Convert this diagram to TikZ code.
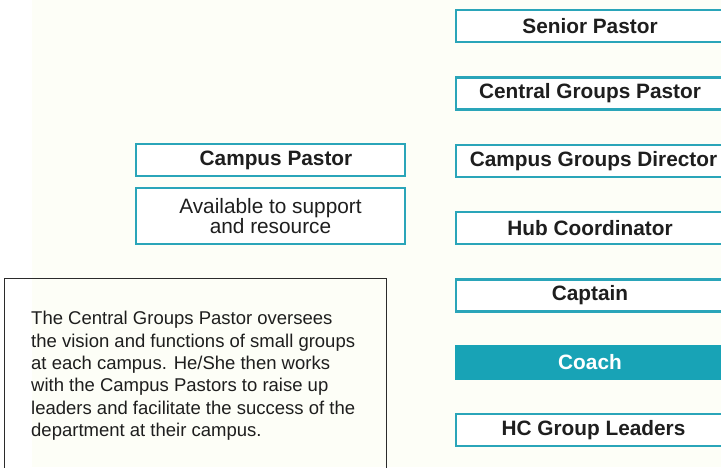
\documentclass[tikz,border=0pt]{standalone}
\usepackage{fontspec}
\setmainfont{Liberation Sans}
\definecolor{cream}{rgb}{0.992,0.996,0.970}
\definecolor{tealb}{HTML}{2AA5B9}
\definecolor{tealf}{HTML}{18A3B6}
\definecolor{txt}{HTML}{1E1E1E}
\definecolor{descline}{HTML}{2B2B2B}
\begin{document}
\begin{tikzpicture}[x=1pt,y=-1pt,
  rolebox/.style={draw=tealb,line width=2.4pt,fill=white,minimum width=268pt,minimum height=32pt,inner sep=0pt,
    font=\fontsize{20.8}{22}\selectfont\bfseries,text=txt},
  coachbox/.style={rolebox,fill=tealf,draw=tealf,text=white},
  sidebox/.style={draw=tealb,line width=2.4pt,fill=white,minimum width=269pt,inner sep=0pt,text=txt},
  descframe/.style={draw=descline,line width=1.3pt,minimum width=382pt,minimum height=200pt,inner sep=0pt,anchor=north west},
  desctext/.style={anchor=north west,inner sep=0pt,align=left,text=txt,
    font=\fontsize{18.5}{22.4}\selectfont}]
\useasboundingbox (0,0) rectangle (721,467);
\clip (0,0) rectangle (721,467);
\fill[white] (0,0) rectangle (721,467);
\fill[cream] (32,0) rectangle (721,467);
% right column
\node[rolebox] (senior) at (590,26) {Senior Pastor};
\node[rolebox] (central) at (590,93.5) {Central Groups Pastor};
\node[rolebox] (director) at (590,161) {\hspace*{7pt}Campus Groups Director};
\node[rolebox] (hub) at (590,228) {Hub Coordinator};
\node[rolebox] (captain) at (590,295.5) {Captain};
\node[coachbox] (coach) at (590,362.5) {Coach};
\node[rolebox] (hc) at (590,430) {\hspace*{7pt}HC Group Leaders};
% left boxes
\node[sidebox,minimum height=32pt,font=\fontsize{20.8}{22}\selectfont\bfseries] (campus) at (270.5,160) {\hspace*{11pt}Campus Pastor};
\node[sidebox,minimum height=56pt,align=center,font=\fontsize{20.8}{19.5}\selectfont] (avail) at (270.5,216) {Available to support\\and resource};
% description
\node[descframe] (descbox) at (4,278) {};
\node[desctext] (desc) at (31,311) {The Central Groups Pastor oversees\\the vision and functions of small groups\\at each campus. He/She then works\\with the Campus Pastors to raise up\\leaders and facilitate the success of the\\department at their campus.};
\end{tikzpicture}
\end{document}
